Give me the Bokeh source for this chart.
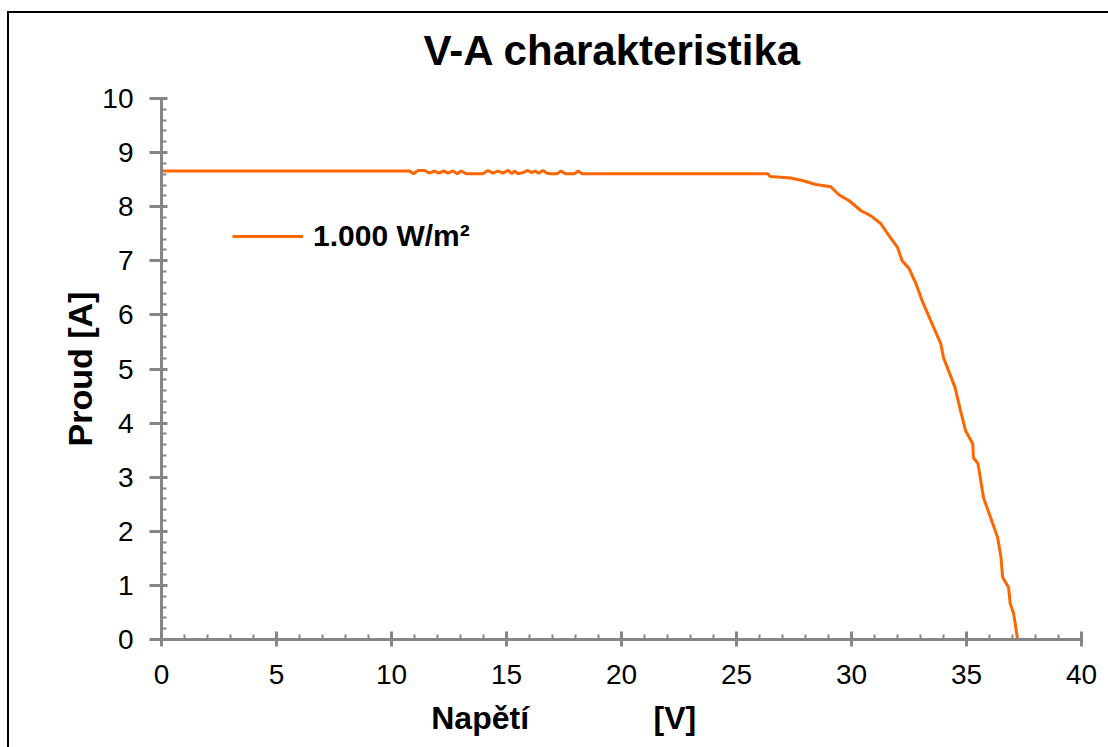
from bokeh.plotting import figure
from bokeh.models import SingleIntervalTicker, Legend, LegendItem, Range1d, InlineStyleSheet
from bokeh.embed import file_html
from bokeh.resources import INLINE

# ---- data ----
voltage = [0.00, 10.79, 10.96, 11.15, 11.44, 11.65, 11.87, 12.04, 12.28, 12.45,
           12.67, 12.86, 13.03, 13.25, 13.97, 14.19, 14.41, 14.62, 14.84, 15.08,
           15.23, 15.35, 15.49, 15.71, 15.93, 16.10, 16.24, 16.39, 16.58, 16.76,
           16.94, 17.20, 17.37, 17.55, 17.95, 18.12, 18.28, 26.36, 26.45, 27.36,
           27.90, 28.45, 29.10, 29.45, 29.90, 30.40, 30.84, 31.27, 31.57, 32.00,
           32.20, 32.50, 32.80, 33.10, 33.50, 33.88, 34.00, 34.50, 34.74, 34.96,
           35.27, 35.30, 35.50, 35.74, 36.05, 36.35, 36.50, 36.57, 36.83, 36.90,
           37.05, 37.22]
current = [8.66, 8.66, 8.61, 8.67, 8.67, 8.62, 8.66, 8.62, 8.66, 8.62,
           8.66, 8.61, 8.66, 8.61, 8.61, 8.67, 8.62, 8.66, 8.62, 8.67,
           8.61, 8.66, 8.61, 8.63, 8.67, 8.63, 8.66, 8.62, 8.67, 8.62,
           8.61, 8.61, 8.66, 8.61, 8.61, 8.66, 8.61, 8.61, 8.56, 8.53,
           8.48, 8.41, 8.37, 8.22, 8.11, 7.93, 7.83, 7.69, 7.50, 7.25,
           7.00, 6.86, 6.58, 6.23, 5.84, 5.47, 5.21, 4.66, 4.23, 3.86,
           3.62, 3.36, 3.25, 2.62, 2.25, 1.89, 1.52, 1.15, 0.96, 0.66,
           0.48, 0.00]
series_name = "1.000 W/m²"
title_text = "V-A charakteristika"
NBSP = "\u00a0"
# the reference label sits left of centre: wide gap, then trailing padding
x_label = "Napětí" + NBSP * 14 + "[V]" + NBSP * 13
y_label = "Proud [A]"

FONT = "Liberation Sans"
AXIS_GREY = "#868686"
ORANGE = "#ff6600"

p = figure(width=1120, height=760, output_backend="svg", toolbar_location=None,
           x_range=Range1d(0, 40), y_range=Range1d(0, 10),
           min_border_left=161, min_border_right=39,
           min_border_top=98, min_border_bottom=121)
# chart-area border (its left and top edges lie in view; the chart area runs past the window)
p.stylesheets = [InlineStyleSheet(css=(
    ":host { position: fixed; left: 0px; top: 0px; background: "
    "linear-gradient(#000,#000) 7px 11px / 2px calc(100% - 11px) no-repeat, "
    "linear-gradient(#000,#000) 7px 11px / calc(100% - 7px) 2px no-repeat, "
    "#ffffff; }"))]
p.border_fill_color = None
p.background_fill_color = "white"
p.xgrid.visible = False
p.ygrid.visible = False
p.outline_line_color = None

# title
p.title.text = title_text
p.title.align = "left"
p.title.offset = 262
p.title.vertical_align = "top"
p.title.text_font = FONT
p.title.text_font_size = "42px"
p.title.text_font_style = "bold"
p.title.text_color = "black"
p.title.standoff = 46

# axes
p.xaxis.ticker = SingleIntervalTicker(interval=5, num_minor_ticks=5)
p.yaxis.ticker = SingleIntervalTicker(interval=1, num_minor_ticks=5)
for ax in (p.xaxis, p.yaxis):
    ax.axis_line_color = AXIS_GREY
    ax.axis_line_width = 3
    ax.major_tick_line_color = AXIS_GREY
    ax.major_tick_line_width = 3
    ax.minor_tick_line_color = AXIS_GREY
    ax.minor_tick_line_width = 2
    ax.minor_tick_in = 5
    ax.minor_tick_out = 0
    ax.major_label_text_font = FONT
    ax.major_label_text_font_size = "28px"
    ax.major_label_text_color = "black"
    ax.axis_label_text_font = FONT
    ax.axis_label_text_font_style = "bold"
    ax.axis_label_text_color = "black"
p.xaxis.major_tick_in = 8
p.xaxis.major_tick_out = 7
p.xaxis.major_label_standoff = 18
p.yaxis.major_tick_in = 6
p.yaxis.major_tick_out = 12
p.yaxis.major_label_standoff = 16

p.yaxis.axis_label = y_label
p.yaxis.axis_label_text_font_size = "34px"
p.yaxis.axis_label_standoff = 0

p.xaxis.axis_label = x_label
p.xaxis.axis_label_text_font_size = "32px"
p.xaxis.axis_label_standoff = 13

# curve
r = p.line(voltage, current, line_color=ORANGE, line_width=3)

legend = Legend(items=[LegendItem(label=series_name, renderers=[r])],
                location=(71, 386), padding=0, margin=0, spacing=0,
                glyph_width=71, glyph_height=20, label_standoff=10,
                label_text_font=FONT, label_text_font_size="30px",
                label_text_font_style="bold", label_text_color="black",
                border_line_alpha=0, background_fill_alpha=0)
p.add_layout(legend)

open("out.html", "w").write(file_html(p, INLINE))
